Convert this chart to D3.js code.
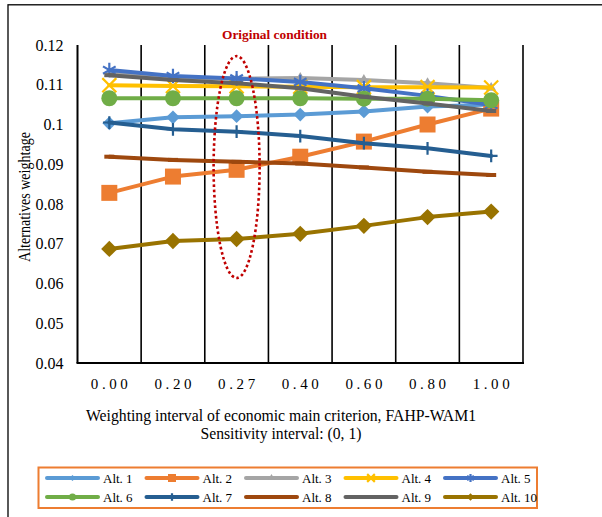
<!DOCTYPE html>
<html>
<head>
<meta charset="utf-8">
<script src="https://cdn.jsdelivr.net/npm/d3@7"></script>
<style>
  html, body { margin: 0; padding: 0; background: #fff; }
  svg { display: block; }
  text { font-family: "Liberation Serif", "Times New Roman", serif; fill: #000; }
</style>
</head>
<body>
<svg id="chart" width="602" height="517"></svg>
<script>
// ---------------- data ----------------
const categories = ["0.00", "0.20", "0.27", "0.40", "0.60", "0.80", "1.00"];
const seriesNames = ["Alt. 1", "Alt. 2", "Alt. 3", "Alt. 4", "Alt. 5", "Alt. 6", "Alt. 7", "Alt. 8", "Alt. 9", "Alt. 10"];
const alt1  = [0.1003, 0.1018, 0.1021, 0.1025, 0.1033, 0.1045, 0.1050];
const alt2  = [0.0828, 0.0869, 0.0886, 0.0919, 0.0957, 0.1000, 0.1040];
const alt3  = [0.1128, 0.1118, 0.1115, 0.1117, 0.1112, 0.1104, 0.1092];
const alt4  = [0.1099, 0.1097, 0.1096, 0.1095, 0.1094, 0.1094, 0.1093];
const alt5  = [0.1137, 0.1122, 0.1116, 0.1107, 0.1091, 0.1072, 0.1049];
const alt6  = [0.1066, 0.1066, 0.1066, 0.1066, 0.1065, 0.1065, 0.1061];
const alt7  = [0.1005, 0.0988, 0.0982, 0.0971, 0.0953, 0.0940, 0.0921];
const alt8  = [0.0919, 0.0911, 0.0906, 0.0902, 0.0892, 0.0881, 0.0873];
const alt9  = [0.1124, 0.1112, 0.1104, 0.1091, 0.1070, 0.1053, 0.1034];
const alt10 = [0.0687, 0.0707, 0.0712, 0.0725, 0.0745, 0.0767, 0.0781];
const yTicks = [0.04, 0.05, 0.06, 0.07, 0.08, 0.09, 0.1, 0.11, 0.12];
const yTickLabels = ["0.04", "0.05", "0.06", "0.07", "0.08", "0.09", "0.1", "0.11", "0.12"];
const annotationLabel = "Original condition";
const annotationCategory = "0.27";
const annotationRange = [0.0614, 0.1172];
const yTitle = "Alternatives weightage";
const xTitle1 = "Weighting interval of economic main criterion, FAHP-WAM1";
const xTitle2 = "Sensitivity interval: (0, 1)";

// ---------------- styles ----------------
const colors = ["#5B9BD5", "#ED7D31", "#A5A5A5", "#FFC000", "#4472C4", "#70AD47", "#255E91", "#9E480E", "#636363", "#997300"];
const markers = ["diamond", "square", "triangle", "times", "asterisk", "circle", "plus", "dash", "dash", "diamond"];
const markerSizes = [120, 256, 45, 130, 150, 201, 55, 0, 0, 170];
const allValues = [alt1, alt2, alt3, alt4, alt5, alt6, alt7, alt8, alt9, alt10];

const svg = d3.select("#chart");
const W = 602, H = 517;
const plot = { left: 77.5, right: 523, top: 45, bottom: 363 };

svg.append("rect").attr("width", W).attr("height", H).attr("fill", "#fff");
// outer chart frame
svg.append("rect").attr("x", 8).attr("y", 4.8).attr("width", 610).attr("height", 540)
  .attr("fill", "none").attr("stroke", "#000").attr("stroke-width", 1.3);

const x = d3.scaleBand().domain(categories).range([plot.left, plot.right]).padding(0);
const y = d3.scaleLinear().domain([0.04, 0.12]).range([plot.bottom, plot.top]);
const cx = c => x(c) + x.bandwidth() / 2;

// vertical grid lines at category boundaries
const bounds = categories.map(c => x(c) + x.bandwidth());
svg.append("g").selectAll("line").data(bounds).join("line")
  .attr("x1", d => d).attr("x2", d => d)
  .attr("y1", plot.top).attr("y2", plot.bottom)
  .attr("stroke", "#000").attr("stroke-width", 1.6);

// y axis
const yAxis = svg.append("g").attr("transform", `translate(${plot.left},0)`)
  .call(d3.axisLeft(y).tickValues(yTicks).tickSize(0).tickPadding(14)
    .tickFormat((d, i) => yTickLabels[i]));
yAxis.select(".domain").attr("stroke", "#000").attr("stroke-width", 2)
  .attr("d", `M0,${plot.top}V${plot.bottom}`);
yAxis.selectAll("text").style("font-family", '"Liberation Serif", serif')
  .style("font-size", "16px").attr("fill", "#000");

// x axis
const xAxis = svg.append("g").attr("transform", `translate(0,${plot.bottom})`)
  .call(d3.axisBottom(x).tickSize(0).tickPadding(15));
xAxis.select(".domain").attr("stroke", "#000").attr("stroke-width", 2)
  .attr("d", `M${plot.left - 1},0H${plot.right + 1}`);
xAxis.selectAll("text").style("font-family", '"Liberation Serif", serif')
  .style("font-size", "15px").style("letter-spacing", "3.6px").attr("fill", "#000")
  .attr("dx", "1.8px");

// axis titles
svg.append("text").attr("transform", `translate(30,197) rotate(-90)`)
  .attr("text-anchor", "middle").style("font-size", "16px")
  .attr("textLength", 130).attr("lengthAdjust", "spacingAndGlyphs").text(yTitle);
svg.append("text").attr("x", 281).attr("y", 421).attr("text-anchor", "middle")
  .style("font-size", "16px").attr("textLength", 390).attr("lengthAdjust", "spacingAndGlyphs").text(xTitle1);
svg.append("text").attr("x", 281).attr("y", 439).attr("text-anchor", "middle")
  .style("font-size", "16px").attr("textLength", 161).attr("lengthAdjust", "spacingAndGlyphs").text(xTitle2);

// custom dash marker
const dashSym = { draw(ctx, size) { ctx.moveTo(-5, 0); ctx.lineTo(5, 0); } };
const symTypes = {
  diamond: d3.symbolDiamond2, square: d3.symbolSquare, triangle: d3.symbolTriangle,
  circle: d3.symbolCircle, times: d3.symbolTimes, asterisk: d3.symbolAsterisk,
  plus: d3.symbolPlus, dash: dashSym
};
const strokeMarkers = new Set(["times", "asterisk", "plus", "dash"]);

function drawMarker(g, type, size, color, px, py, scaleF) {
  const p = d3.symbol().type(symTypes[type]).size(size)();
  const m = g.append("path").attr("d", p)
    .attr("transform", `translate(${px},${py}) scale(${scaleF})`);
  if (strokeMarkers.has(type)) {
    m.attr("fill", "none").attr("stroke", color)
     .attr("stroke-width", (type === "dash" ? 4 : 2.2) / scaleF);
  } else {
    m.attr("fill", color).attr("stroke", "none");
  }
}

// series
const line = d3.line().x((d, i) => cx(categories[i])).y(d => y(d));
const seriesG = svg.append("g");
allValues.forEach((vals, s) => {
  const g = seriesG.append("g");
  g.append("path").datum(vals).attr("d", line)
    .attr("fill", "none").attr("stroke", colors[s]).attr("stroke-width", 4)
    .attr("stroke-linejoin", "round").attr("stroke-linecap", "round");
  vals.forEach((v, i) => drawMarker(g, markers[s], markerSizes[s], colors[s], cx(categories[i]), y(v), 1));
});

// annotation ellipse
const eTop = y(annotationRange[1]), eBot = y(annotationRange[0]);
svg.append("ellipse")
  .attr("cx", cx(annotationCategory)).attr("cy", (eTop + eBot) / 2)
  .attr("rx", 23).attr("ry", (eBot - eTop) / 2)
  .attr("fill", "none").attr("stroke", "#C00000").attr("stroke-width", 2.6)
  .attr("stroke-dasharray", "2.6 2.6");
svg.append("text").attr("x", 274.5).attr("y", 39).attr("text-anchor", "middle")
  .style("font-size", "12.5px").style("font-weight", "bold")
  .attr("textLength", 105).attr("lengthAdjust", "spacingAndGlyphs")
  .style("fill", "#C00000").text(annotationLabel);

// legend
svg.append("rect").attr("x", 38.5).attr("y", 467.5).attr("width", 498.5).attr("height", 40.5)
  .attr("fill", "none").attr("stroke", "#ED7D31").attr("stroke-width", 2);
const legendScale = [0.45, 0.5, 0.7, 0.55, 0.55, 0.45, 0.6, 0, 0, 0.45];
const legG = svg.append("g");
seriesNames.forEach((name, s) => {
  const col = s % 5, row = Math.floor(s / 5);
  const lx = 47 + col * 99.5, ly = 478 + row * 19;
  const g = legG.append("g");
  g.append("line").attr("x1", lx).attr("x2", lx + 51).attr("y1", ly).attr("y2", ly)
    .attr("stroke", colors[s]).attr("stroke-width", 4).attr("stroke-linecap", "round");
  if (markers[s] !== "dash") drawMarker(g, markers[s], markerSizes[s], colors[s], lx + 25.5, ly, legendScale[s]);
  g.append("text").attr("x", lx + 56).attr("y", ly + 4.5).style("font-size", "13px").text(name);
});
</script>
</body>
</html>
